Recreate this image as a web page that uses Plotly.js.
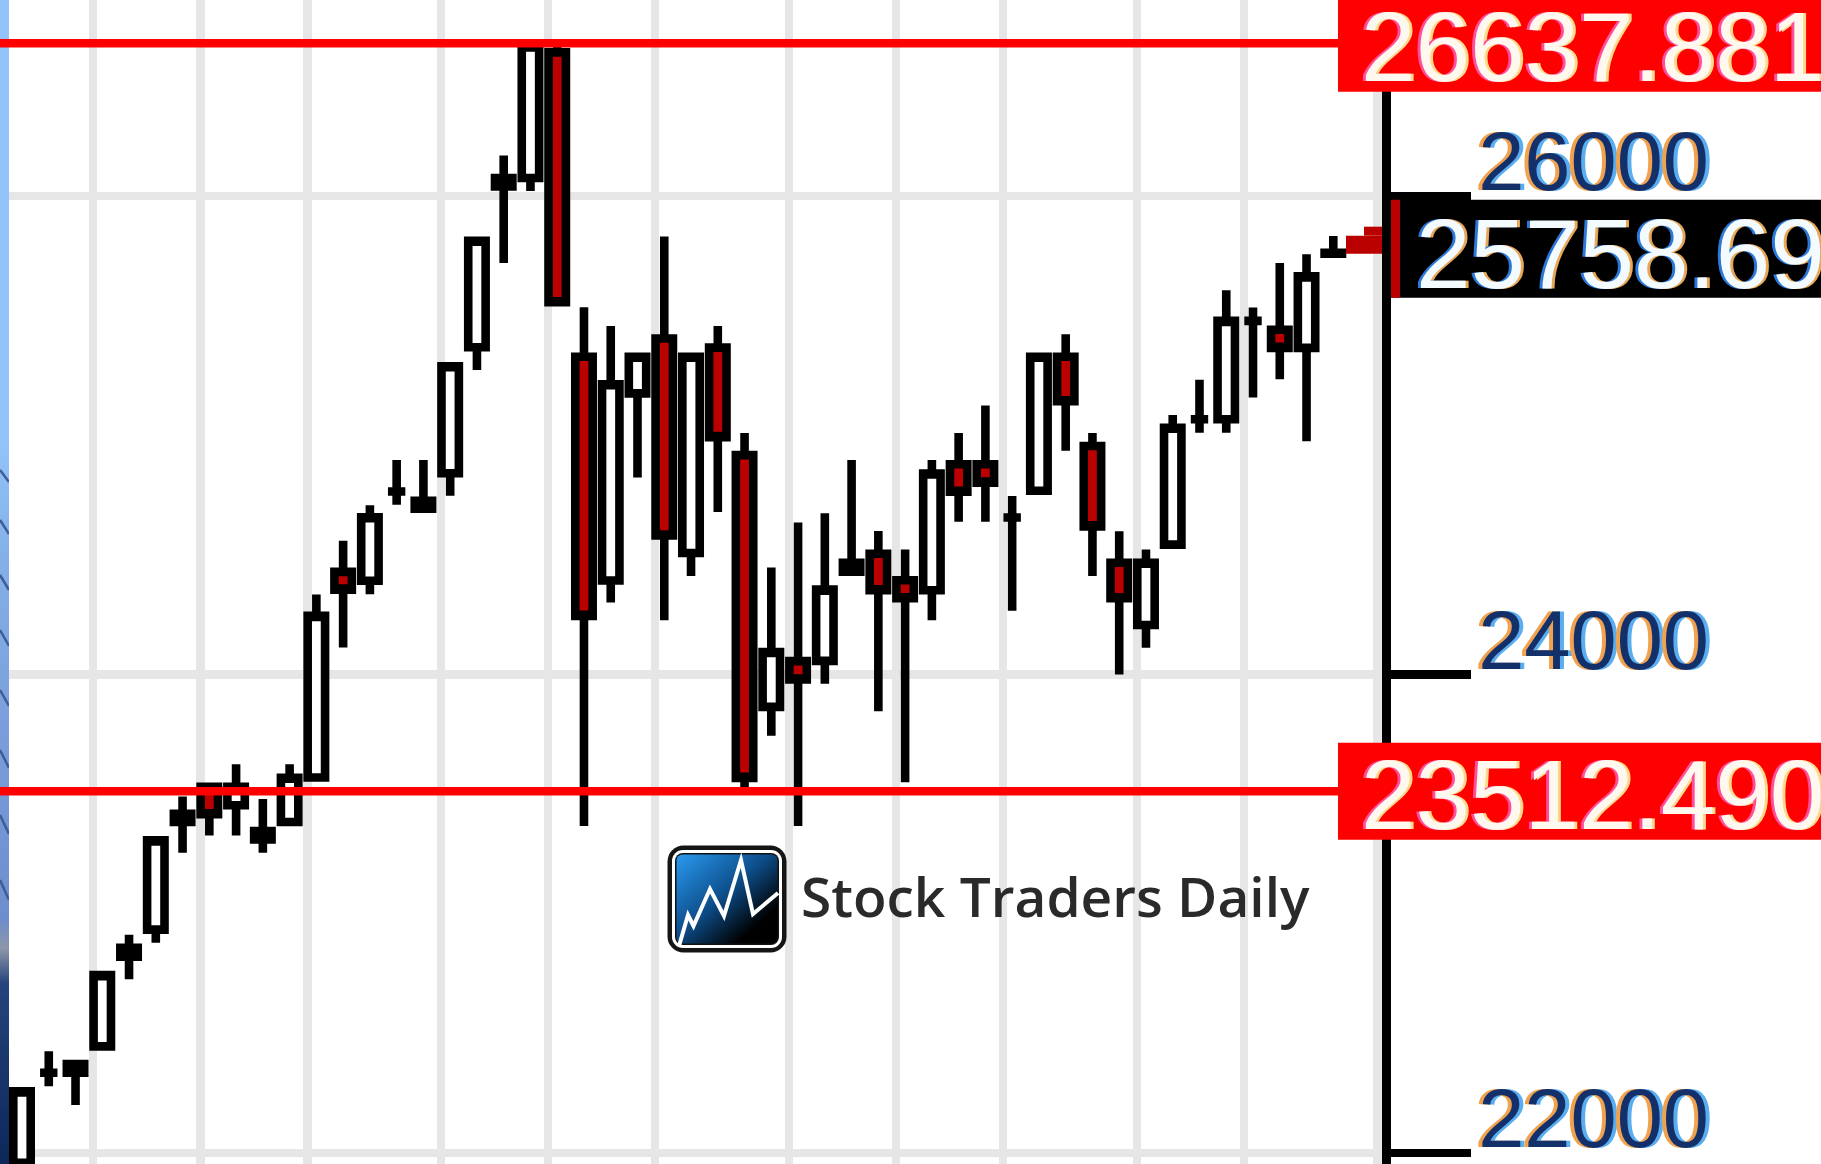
<!DOCTYPE html>
<html>
<head>
<meta charset="utf-8">
<script src="https://cdn.plot.ly/plotly-3.0.1.min.js"></script>
<style>
html,body{margin:0;padding:0;background:#fff;overflow:hidden;}
#chart{width:1821px;height:1164px;}
</style>
</head>
<body>
<div id="chart"></div>
<script>
// ---- data ----
const sessions = [0,1,2,3,4,5,6,7,8,9,10,11,12,13,14,15,16,17,18,19,20,21,22,23,24,25,26,27,28,29,30,31,32,33,34,35,36,37,38,39,40,41,42,43,44,45,46,47,48,49];
const opens  = [21960,22336,22372,22446,22821,22934,23418,23531,23454,23346,23384,23570,24429,24392,24765,24726,24841,25368,26040,26075,26600,25328,24393,25175,25404,24508,25366,24917,23865,24056,24057,24430,24505,24394,24352,24879,24879,24656,24768,25328,24955,24467,24207,24543,25067,25067,25478,25441,25365,25762];
const highs  = [22276,22426,22372,22744,22913,23307,23490,23531,23625,23480,23625,24334,24559,24707,24897,24897,25288,25813,26169,26637.88,26637.88,25535,25457,25328,25831,25328,25457,25009,24447,24635,24674,24897,24600,24523,24897,25009,25124,24746,25328,25422,25009,24599,24523,25085,25232,25606,25534,25720,25756,25833];
const lows   = [21942,22280,22201,22446,22727,22879,23255,23327,23327,23255,23384,23570,24113,24336,24710,24693,24747,25273,25720,26021,25556,23367,24301,24823,24227,24412,24679,23512.49,23744,23367,23962,24430,23847,23550,24227,24638,24638,24267,24768,24935,24412,24000,24112,24543,25010,25010,25158,25234,24975,25758.69];
const closes = [22258,22336,22336,22744,22858,23307,23384,23416,23531,23311,23569,24245,24355,24657,24765,24693,25288,25813,26075,26625,25556,24245,25213,25328,24581,25328,24992,23568,24094,23979,24355,24467,24352,24319,24840,24764,24802,24656,25328,25142,24619,24319,24467,25031,25067,25478,25478,25365,25664,25758.69];
const resistance = 26637.881;
const support = 23512.490;
const lastPrice = 25758.69;
const weekBreaks = [2,6,10,15,19,23,28,32,36,41,45,50];
const yTicks = [22000, 24000, 26000];
const brand = 'Stock Traders Daily';

// ---- geometry / styles ----
const W = 1821, H = 1164, plotRight = 1382;
const px = p => p / plotRight;       // pixel -> paper x
const py = p => 1 - p / H;           // pixel -> paper y
const STROKE = 8.6;
const labelFont = 'Liberation Sans, Arial, sans-serif';

const stripSvg =
 '<svg xmlns="http://www.w3.org/2000/svg" width="9" height="1164" viewBox="0 0 9 1164" preserveAspectRatio="none">' +
 '<defs><linearGradient id="g" x1="0" y1="0" x2="0" y2="1">' +
 '<stop offset="0" stop-color="#92c3fa"/><stop offset="0.38" stop-color="#92c3fa"/>' +
 '<stop offset="0.47" stop-color="#85b1ea"/><stop offset="0.62" stop-color="#7b9fdc"/>' +
 '<stop offset="0.79" stop-color="#6e8dcc"/><stop offset="0.815" stop-color="#8d96a8"/>' +
 '<stop offset="0.845" stop-color="#25437c"/><stop offset="1" stop-color="#0c2758"/>' +
 '</linearGradient></defs><rect width="9" height="1164" fill="url(#g)"/>' +
 '<g stroke="#3e5c98" stroke-width="2.5">' +
 '<line x1="0" y1="470" x2="9" y2="482"/><line x1="0" y1="520" x2="9" y2="534"/>' +
 '<line x1="0" y1="575" x2="9" y2="590"/><line x1="0" y1="630" x2="9" y2="646"/>' +
 '<line x1="0" y1="690" x2="9" y2="706"/><line x1="0" y1="750" x2="9" y2="768"/>' +
 '<line x1="0" y1="815" x2="9" y2="834"/><line x1="0" y1="880" x2="9" y2="900"/>' +
 '</g></svg>';

const iconSvg =
 '<svg xmlns="http://www.w3.org/2000/svg" width="120" height="108" viewBox="0 0 120 108">' +
 '<defs><linearGradient id="b" x1="0" y1="0" x2="1" y2="1">' +
 '<stop offset="0" stop-color="#2a9af0"/><stop offset="0.45" stop-color="#0d4f8c"/><stop offset="0.8" stop-color="#000"/>' +
 '</linearGradient></defs>' +
 '<rect x="0.5" y="0.5" width="119" height="107" rx="16" fill="#151515"/>' +
 '<rect x="5" y="5" width="110" height="98" rx="11" fill="#ffffff"/>' +
 '<rect x="8" y="8" width="104" height="92" rx="8" fill="#111"/>' +
 '<rect x="9.5" y="9.5" width="101" height="89" rx="6" fill="url(#b)"/>' +
 '<polyline points="12,101 21,70 26.5,81 43,44 57,71 74,15 86,69 111,48" fill="none" stroke="#fff" stroke-width="4" stroke-linejoin="miter"/>' +
 '</svg>';

const svgUri = s => 'data:image/svg+xml;base64,' + btoa(s);

const trace = {
  type: 'candlestick',
  x: sessions, open: opens, high: highs, low: lows, close: closes,
  increasing: {line: {color: '#000000', width: STROKE}, fillcolor: '#ffffff'},
  decreasing: {line: {color: '#000000', width: STROKE}, fillcolor: '#bb0000'},
  whiskerwidth: 0,
  hoverinfo: 'skip'
};

const redText = {family: labelFont, size: 98, color: '#fff8ee', shadow: '-3px 0px 0px #ff4f9a, 3px 0px 0px #ffd98a'};
const priceText = {family: labelFont, size: 98, color: '#f4fbff', shadow: '-3px 0px 0px #2a78d8, 3px 0px 0px #e8a85a'};

const layout = {
  width: W, height: H,
  margin: {l: 0, r: W - plotRight, t: 0, b: 0, pad: 0},
  paper_bgcolor: '#ffffff', plot_bgcolor: '#ffffff',
  showlegend: false,
  boxgap: 0.35, boxgroupgap: 0,
  xaxis: {
    range: [-0.822, 50.82], tickmode: 'array', tickvals: weekBreaks.map(b => b + 0.66),
    showticklabels: false, ticks: '', showgrid: true, gridcolor: '#e6e6e6', gridwidth: STROKE,
    zeroline: false, showline: false, rangeslider: {visible: false}, fixedrange: true
  },
  yaxis: {
    range: [21954.6, 26818.8], side: 'right', tickmode: 'array', tickvals: yTicks,
    ticktext: yTicks.map(String), showgrid: true, gridcolor: '#e6e6e6', gridwidth: STROKE,
    zeroline: false, showline: true, linecolor: '#000000', linewidth: STROKE,
    ticks: 'outside', ticklen: 80, tickwidth: STROKE, tickcolor: '#000000',
    ticklabelstandoff: -9, ticklabelshift: -35, ticklabeloverflow: 'allow',
    automargin: false, fixedrange: true,
    tickfont: {family: labelFont, size: 83, color: '#14306a', shadow: '-4px 0px 0px #f0a24e, 4px 0px 0px #5aaef0'}
  },
  shapes: [
    {type: 'line', xref: 'paper', yref: 'y', x0: 0, x1: px(1338), y0: resistance, y1: resistance, line: {color: '#ff0000', width: STROKE}},
    {type: 'line', xref: 'paper', yref: 'y', x0: 0, x1: px(1338), y0: support, y1: support, line: {color: '#ff0000', width: STROKE}},
    {type: 'rect', xref: 'paper', yref: 'y', ysizemode: 'pixel', yanchor: resistance, x0: px(1338), x1: px(1830), y0: -48.5, y1: 48.5, fillcolor: '#ff0000', line: {width: 0}},
    {type: 'rect', xref: 'paper', yref: 'y', ysizemode: 'pixel', yanchor: support, x0: px(1338), x1: px(1830), y0: -48.5, y1: 48.5, fillcolor: '#ff0000', line: {width: 0}},
    {type: 'rect', xref: 'paper', yref: 'y', ysizemode: 'pixel', yanchor: lastPrice, x0: px(1391), x1: px(1830), y0: -44, y1: 54, fillcolor: '#000000', line: {width: 0}},
    {type: 'rect', xref: 'paper', yref: 'y', ysizemode: 'pixel', yanchor: lastPrice, x0: px(1391), x1: px(1400), y0: -44, y1: 54, fillcolor: '#bb0000', line: {width: 0}},
    {type: 'rect', xref: 'paper', yref: 'y', ysizemode: 'pixel', yanchor: lastPrice, x0: px(1346), x1: px(1382), y0: 0, y1: 18, fillcolor: '#bb0000', line: {width: 0}},
    {type: 'rect', xref: 'paper', yref: 'y', ysizemode: 'pixel', yanchor: lastPrice, x0: px(1364), x1: px(1382), y0: 18, y1: 27, fillcolor: '#bb0000', line: {width: 0}}
  ],
  annotations: [
    {text: resistance.toFixed(3), xref: 'paper', yref: 'y', x: px(1360), y: resistance, xanchor: 'left', yanchor: 'middle', yshift: -4, showarrow: false, borderpad: 0, font: redText},
    {text: support.toFixed(3), xref: 'paper', yref: 'y', x: px(1360), y: support, xanchor: 'left', yanchor: 'middle', yshift: -4, showarrow: false, borderpad: 0, font: redText},
    {text: lastPrice.toFixed(2), xref: 'paper', yref: 'y', x: px(1415), y: lastPrice, xanchor: 'left', yanchor: 'middle', yshift: 0, showarrow: false, borderpad: 0, font: priceText},
    {text: brand, xref: 'paper', yref: 'paper', x: px(800), y: py(895), xanchor: 'left', yanchor: 'middle', showarrow: false, borderpad: 0,
     font: {family: 'Open Sans, sans-serif', size: 55, weight: 600, color: '#2a2a2a'}}
  ],
  images: [
    {source: svgUri(stripSvg), xref: 'paper', yref: 'paper', x: 0, y: 1, sizex: px(9), sizey: 1, xanchor: 'left', yanchor: 'top', sizing: 'stretch', layer: 'above'},
    {source: svgUri(iconSvg), xref: 'paper', yref: 'paper', x: px(667), y: py(845), sizex: px(120), sizey: 108 / H, xanchor: 'left', yanchor: 'top', sizing: 'stretch', layer: 'above'}
  ]
};

Plotly.newPlot('chart', [trace], layout, {staticPlot: true, displayModeBar: false});
</script>
</body>
</html>
